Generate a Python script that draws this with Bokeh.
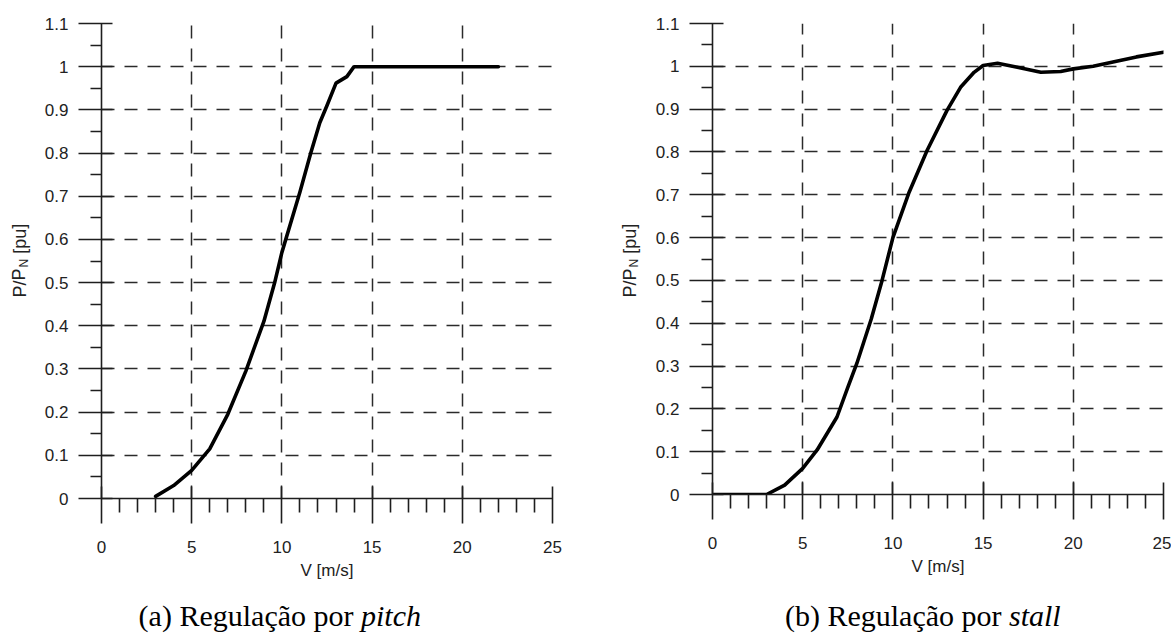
from bokeh.plotting import figure
from bokeh.layouts import row, column
from bokeh.models import FixedTicker, CustomJSTickFormatter, Label, Range1d
from bokeh.embed import file_html
from bokeh.resources import INLINE

# ---- data ----
pitch_v = [3, 4, 5, 6, 7, 8, 9, 9.6, 10, 11, 11.6, 12.1, 12.5, 13, 13.6, 14, 22]
pitch_p = [0.005, 0.03, 0.065, 0.115, 0.195, 0.295, 0.41, 0.50, 0.57, 0.71, 0.80, 0.87, 0.91, 0.962, 0.977, 1.0, 1.0]

stall_v = [0, 3, 4, 5, 5.8, 6.9, 7.5, 8, 8.8, 9.4, 10, 10.9, 11.9, 13, 13.75, 14.5, 15, 15.8, 16.9, 18.2, 19.3, 20, 21.1, 22.2, 23.5, 25]
stall_p = [0, 0, 0.022, 0.061, 0.104, 0.181, 0.25, 0.306, 0.41, 0.50, 0.60, 0.706, 0.804, 0.897, 0.951, 0.986, 1.002, 1.007, 0.998, 0.986, 0.988, 0.994, 1.0, 1.01, 1.022, 1.033]

x_major = [0, 5, 10, 15, 20, 25]
x_minor = [1, 2, 3, 4, 6, 7, 8, 9, 11, 12, 13, 14, 16, 17, 18, 19, 21, 22, 23, 24]
y_major = [0, 0.1, 0.2, 0.3, 0.4, 0.5, 0.6, 0.7, 0.8, 0.9, 1.0, 1.1]
y_minor = [0.05, 0.15, 0.25, 0.35, 0.45, 0.55, 0.65, 0.75, 0.85, 0.95, 1.05]

x_label = "V [m/s]"
y_label_parts = ["P/P", "N", "[pu]"]
titles = [("(a) Regulação por", "pitch"), ("(b) Regulação por", "stall")]

FONT = "Liberation Sans"
INK = "#1e1e1e"
TXT = "#222222"
TOP_H = 600
CAP_H = 639 - TOP_H


def blank(width, height):
    f = figure(width=width, height=height, x_range=Range1d(0, width), y_range=Range1d(0, height),
               output_backend="svg", toolbar_location=None, x_axis_location=None,
               y_axis_location=None, min_border=0, title=None, frame_align=False)
    f.outline_line_color = None
    f.xgrid.visible = False
    f.ygrid.visible = False
    f.background_fill_color = "white"
    f.border_fill_color = "white"
    return f


def ylabel_fig(width, xc, ybottom):
    # pieces are centred on their own anchor, stacked from bottom to top
    f = blank(width, TOP_H)
    fs_main, fs_sub = 18, 12
    w0 = 1.612 * fs_main
    w1 = 0.722 * fs_sub
    w2 = 1.668 * fs_main
    gap1 = 1
    gap2 = 0.278 * fs_main
    b = TOP_H - ybottom
    c0 = b + w0 / 2
    c1 = b + w0 + gap1 + w1 / 2
    c2 = b + w0 + gap1 + w1 + gap2 + w2 / 2
    for txt, c, fs, dx in ((y_label_parts[0], c0, fs_main, 0),
                           (y_label_parts[1], c1, fs_sub, 4),
                           (y_label_parts[2], c2, fs_main, 0)):
        f.add_layout(Label(x=xc + dx, y=c, text=txt, angle=1.5708,
                           text_font=FONT, text_font_size=f"{fs}px", text_color=TXT,
                           text_align="center", text_baseline="middle"))
    return f


def caption_fig(width, title, x_reg, x_ita, base):
    f = blank(width, CAP_H)
    reg, ita = title
    f.add_layout(Label(x=x_reg, y=base, text=reg, text_font="Liberation Serif",
                       text_font_size="30px", text_color="black",
                       text_align="right", text_baseline="alphabetic"))
    f.add_layout(Label(x=x_ita, y=base, text=ita, text_font="Liberation Serif",
                       text_font_size="30px", text_font_style="italic", text_color="black",
                       text_align="left", text_baseline="alphabetic"))
    return f


def make_panel(width, bl, br, bb, v, pw):
    p = figure(width=width, height=TOP_H, x_range=Range1d(0, 25), y_range=Range1d(0, 1.1),
               output_backend="svg", toolbar_location=None, title=None, frame_align=False,
               min_border_left=bl, min_border_right=br, min_border_top=23, min_border_bottom=bb)
    p.outline_line_color = None
    p.background_fill_color = "white"
    p.border_fill_color = "white"

    fmt = CustomJSTickFormatter(code="return String(Math.round(tick*10)/10);")
    p.xaxis.ticker = FixedTicker(ticks=x_major, minor_ticks=x_minor)
    p.yaxis.ticker = FixedTicker(ticks=y_major, minor_ticks=y_minor)
    p.xaxis.formatter = fmt
    p.yaxis.formatter = fmt

    for ax in (p.xaxis, p.yaxis):
        ax.axis_line_color = INK
        ax.axis_line_width = 1.6
        ax.major_tick_line_color = INK
        ax.major_tick_line_width = 1.6
        ax.minor_tick_line_color = INK
        ax.minor_tick_line_width = 1.6
        ax.major_label_text_font = FONT
        ax.major_label_text_font_size = "17px"
        ax.major_label_text_color = TXT

    p.xaxis.major_tick_in = 12
    p.xaxis.major_tick_out = 25
    p.xaxis.minor_tick_in = 0
    p.xaxis.minor_tick_out = 14
    p.xaxis.major_label_standoff = 17
    p.xaxis.axis_label = x_label
    p.xaxis.axis_label_text_font = FONT
    p.xaxis.axis_label_text_font_style = "normal"
    p.xaxis.axis_label_text_font_size = "17px"
    p.xaxis.axis_label_text_color = TXT
    p.xaxis.axis_label_standoff = 5

    p.yaxis.major_tick_in = 11
    p.yaxis.major_tick_out = 23
    p.yaxis.minor_tick_in = 0
    p.yaxis.minor_tick_out = 11
    p.yaxis.major_label_standoff = 10

    for g in (p.xgrid, p.ygrid):
        g.grid_line_color = "#2a2a2a"
        g.grid_line_width = 1.5
        g.grid_line_dash = "13 10"

    p.line(v, pw, line_color="black", line_width=3.6, line_join="round", line_cap="round")
    return p


# left half: x 0..585 ; right half: x 585..1171
ylab_l = ylabel_fig(40, 19, 297)
left = make_panel(545, 61, 33, TOP_H - 498, pitch_v, pitch_p)
ylab_r = ylabel_fig(65, 44, 297)
right = make_panel(521, 62, 8, TOP_H - 494, stall_v, stall_p)

cap_l = caption_fig(585, titles[0], 353, 360.5, 24)
cap_r = caption_fig(586, titles[1], 416, 423.5, 24)

layout = column(row(ylab_l, left, ylab_r, right, spacing=0),
                row(cap_l, cap_r, spacing=0), spacing=0)
open("out.html", "w").write(file_html(layout, INLINE))
